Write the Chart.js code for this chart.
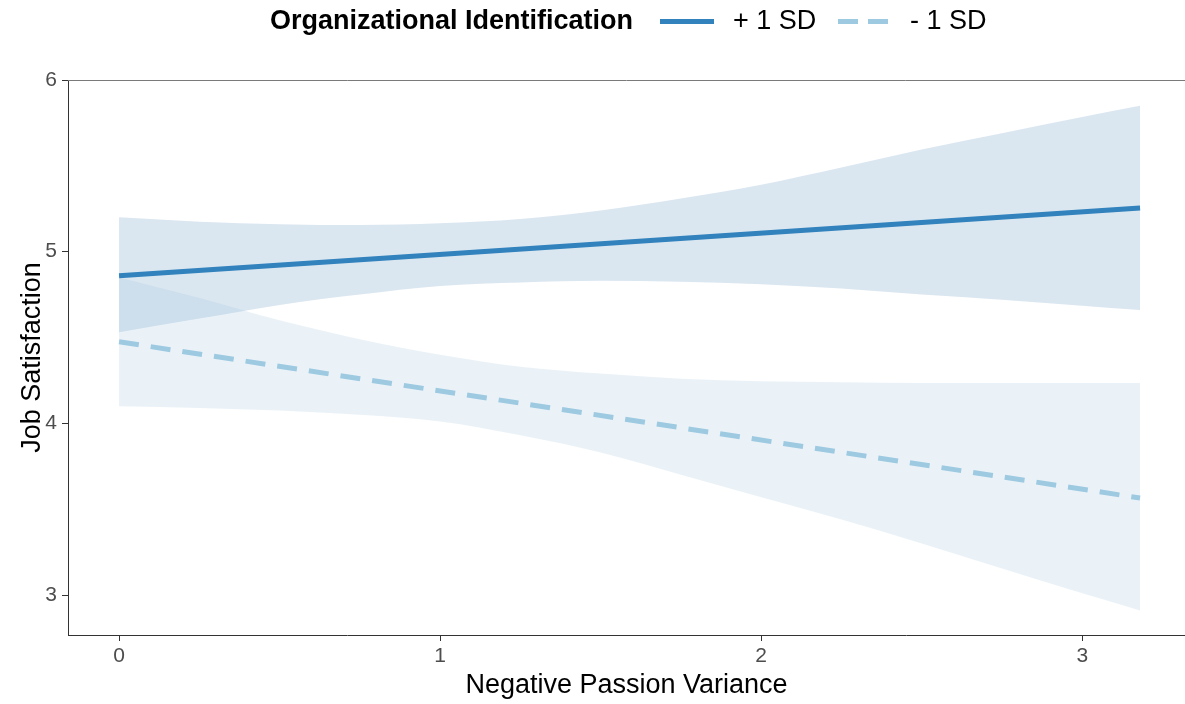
<!DOCTYPE html>
<html>
<head>
<meta charset="utf-8">
<script src="https://cdn.jsdelivr.net/npm/chart.js@4.4.1/dist/chart.umd.min.js"></script>
<style>
  html, body { margin: 0; padding: 0; background: #fff; }
  #wrap { position: relative; width: 1185px; height: 704px; font-family: "Liberation Sans", Arial, sans-serif; }
  #legend { position: absolute; top: 0; left: 0; width: 1185px; height: 42px; }
  #legend span { position: absolute; top: 4px; font-size: 27px; line-height: 32px; color: #000; white-space: nowrap; }
  #legend .title { font-weight: bold; left: 270px; }
  .key { position: absolute; top: 19px; height: 5px; }
</style>
</head>
<body>
<div id="wrap">
  <canvas id="chart" width="1185" height="704"></canvas>
  <div id="legend">
    <span class="title">Organizational Identification</span>
    <div class="key" style="left:660px;width:54px;background:#3182bd"></div>
    <span style="left:733px">+ 1 SD</span>
    <div class="key" style="left:838px;width:20px;background:#9ecae1"></div>
    <div class="key" style="left:868px;width:20px;background:#9ecae1"></div>
    <span style="left:910px">- 1 SD</span>
  </div>
</div>
<script>
// Simple slopes
const seriesNames = ['+ 1 SD', '- 1 SD'];
const lineX = [0, 3.18];
const highLine = [4.86, 5.255];
const lowLine = [4.475, 3.565];

// Confidence bands
const bandX = [0, 0.25, 0.5, 0.75, 1, 1.25, 1.5, 1.75, 2, 2.25, 2.5, 2.75, 3, 3.18];
const highUpper = [5.20, 5.175, 5.16, 5.155, 5.165, 5.19, 5.24, 5.31, 5.39, 5.49, 5.595, 5.69, 5.785, 5.85];
const highLower = [4.53, 4.61, 4.69, 4.75, 4.80, 4.82, 4.83, 4.825, 4.81, 4.785, 4.75, 4.72, 4.685, 4.66];
const lowUpper = [4.85, 4.73, 4.60, 4.49, 4.40, 4.33, 4.29, 4.26, 4.245, 4.24, 4.235, 4.235, 4.235, 4.235];
const lowLower = [4.10, 4.09, 4.075, 4.05, 4.01, 3.93, 3.83, 3.70, 3.57, 3.44, 3.30, 3.155, 3.01, 2.91];

const xRange = [-0.159, 3.32];
const yRange = [2.767, 6];

function pts(xs, ys) {
  return xs.map((x, i) => ({ x, y: ys[i] }));
}

const axisColor = '#333333';
const tickFont = { family: '"Liberation Sans", Arial, sans-serif', size: 21 };
const titleFont = { family: '"Liberation Sans", Arial, sans-serif', size: 27, lineHeight: 1.2 };

// thin line along the top of the panel
const topBorder = {
  id: 'topBorder',
  afterDraw(chart) {
    const { ctx, chartArea } = chart;
    ctx.save();
    ctx.strokeStyle = '#7a7a7a';
    ctx.lineWidth = 1;
    ctx.beginPath();
    ctx.moveTo(chartArea.left, chartArea.top + 0.5);
    ctx.lineTo(chartArea.right, chartArea.top + 0.5);
    ctx.stroke();
    ctx.restore();
  }
};

const band = (data, color, fill) => ({
  data,
  borderWidth: 0,
  pointRadius: 0,
  backgroundColor: color,
  fill,
  tension: 0.4,
  cubicInterpolationMode: 'monotone',
  order: 2
});

new Chart(document.getElementById('chart'), {
  type: 'line',
  data: {
    datasets: [
      band(pts(bandX, lowUpper), 'rgba(150,192,218,0.2)', '+1'),
      band(pts(bandX, lowLower), 'rgba(150,192,218,0.2)', false),
      band(pts(bandX, highUpper), 'rgba(70,130,180,0.2)', '+1'),
      band(pts(bandX, highLower), 'rgba(70,130,180,0.2)', false),
      {
        label: seriesNames[1],
        data: pts(lineX, lowLine),
        borderColor: '#9ecae1',
        borderWidth: 5,
        borderDash: [20, 12],
        pointRadius: 0,
        fill: false,
        order: 1
      },
      {
        label: seriesNames[0],
        data: pts(lineX, highLine),
        borderColor: '#3182bd',
        borderWidth: 5,
        pointRadius: 0,
        fill: false,
        order: 0
      }
    ]
  },
  options: {
    responsive: false,
    animation: false,
    layout: { padding: { top: 80, right: 0, left: 0, bottom: 0 } },
    plugins: { legend: { display: false }, tooltip: { enabled: false } },
    scales: {
      x: {
        type: 'linear',
        min: xRange[0],
        max: xRange[1],
        afterFit: (s) => { s.height = 69; },
        border: { color: axisColor, width: 1 },
        grid: { drawOnChartArea: false, tickLength: 6, color: axisColor },
        ticks: { stepSize: 1, includeBounds: false, color: '#4d4d4d', font: tickFont, padding: 3 },
        title: { display: true, text: 'Negative Passion Variance', color: '#000', font: titleFont, padding: { top: 0, bottom: 2 } }
      },
      y: {
        min: yRange[0],
        max: yRange[1],
        afterFit: (s) => { s.width = 68; },
        border: { color: axisColor, width: 1 },
        grid: { drawOnChartArea: false, tickLength: 6, color: axisColor },
        ticks: { stepSize: 1, includeBounds: false, color: '#4d4d4d', font: tickFont, padding: 5 },
        title: { display: true, text: 'Job Satisfaction', color: '#000', font: titleFont, padding: { top: 16, bottom: 0 } }
      }
    }
  },
  plugins: [topBorder]
});
</script>
</body>
</html>
